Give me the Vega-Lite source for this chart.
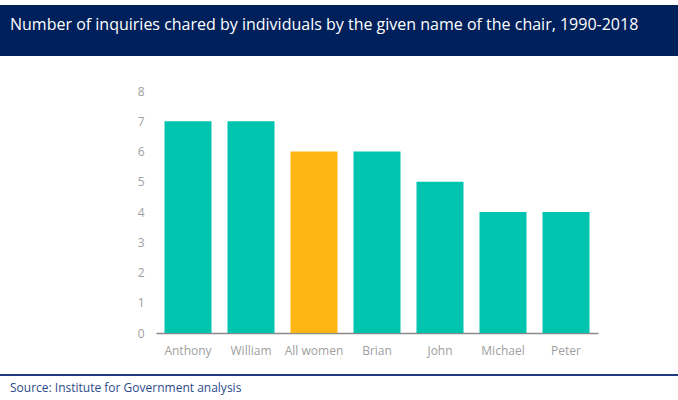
{
  "$schema": "https://vega.github.io/schema/vega-lite/v6.json",
  "background": "white",
  "padding": {"left": 0, "top": 5, "right": 0, "bottom": 20},
  "autosize": {"type": "pad"},
  "bounds": "flush",
  "spacing": 41,
  "config": {"view": {"stroke": null}, "font": "Open Sans"},
  "vconcat": [
    {
      "width": 678,
      "height": 51,
      "view": {"fill": "#00205B", "stroke": null},
      "data": {"values": [{"t": "Number of inquiries chared by individuals by the given name of the chair, 1990-2018"}]},
      "mark": {"type": "text", "align": "left", "baseline": "middle", "dx": -329, "dy": -6, "color": "white", "font": "Open Sans", "fontSize": 16},
      "encoding": {"text": {"field": "t", "type": "nominal"}}
    },
    {
      "width": 678,
      "height": 236,
      "data": {"values": [
        {"name": "Anthony", "inquiries": 7, "group": "Men"},
        {"name": "William", "inquiries": 7, "group": "Men"},
        {"name": "All women", "inquiries": 6, "group": "Women"},
        {"name": "Brian", "inquiries": 6, "group": "Men"},
        {"name": "John", "inquiries": 5, "group": "Men"},
        {"name": "Michael", "inquiries": 4, "group": "Men"},
        {"name": "Peter", "inquiries": 4, "group": "Men"}
      ]},
      "mark": {"type": "bar"},
      "encoding": {
        "x": {
          "field": "name", "type": "nominal", "sort": null,
          "scale": {"range": [156, 598], "paddingInner": 0.254, "paddingOuter": 0.135},
          "axis": {"title": null, "labelAngle": 0, "ticks": false, "tickSize": 0, "labelPadding": 12, "domainColor": "#8a8a8a", "domainWidth": 1.5, "labelColor": "#a0a0a0", "labelFontSize": 12, "labelFont": "Open Sans", "grid": false}
        },
        "y": {
          "field": "inquiries", "type": "quantitative",
          "scale": {"domain": [0, 8], "range": [236, -6]},
          "axis": {"title": null, "offset": -152, "domain": false, "ticks": false, "tickSize": 0, "grid": false, "labelPadding": 8, "labelColor": "#a0a0a0", "labelFontSize": 12, "labelFont": "Open Sans", "values": [0, 1, 2, 3, 4, 5, 6, 7, 8]}
        },
        "color": {"field": "group", "type": "nominal", "scale": {"domain": ["Men", "Women"], "range": ["#00C4AE", "#FDB614"]}, "legend": null}
      }
    },
    {
      "width": 678,
      "height": 2,
      "view": {"fill": "#1F3A7A", "stroke": null},
      "data": {"values": []},
      "mark": "rect",
      "title": {"text": "Source: Institute for Government analysis", "orient": "bottom", "anchor": "start", "frame": "group", "offset": 7, "dx": 10, "fontSize": 12, "font": "Open Sans", "fontWeight": "normal", "color": "#2B4A8B"}
    }
  ]
}
